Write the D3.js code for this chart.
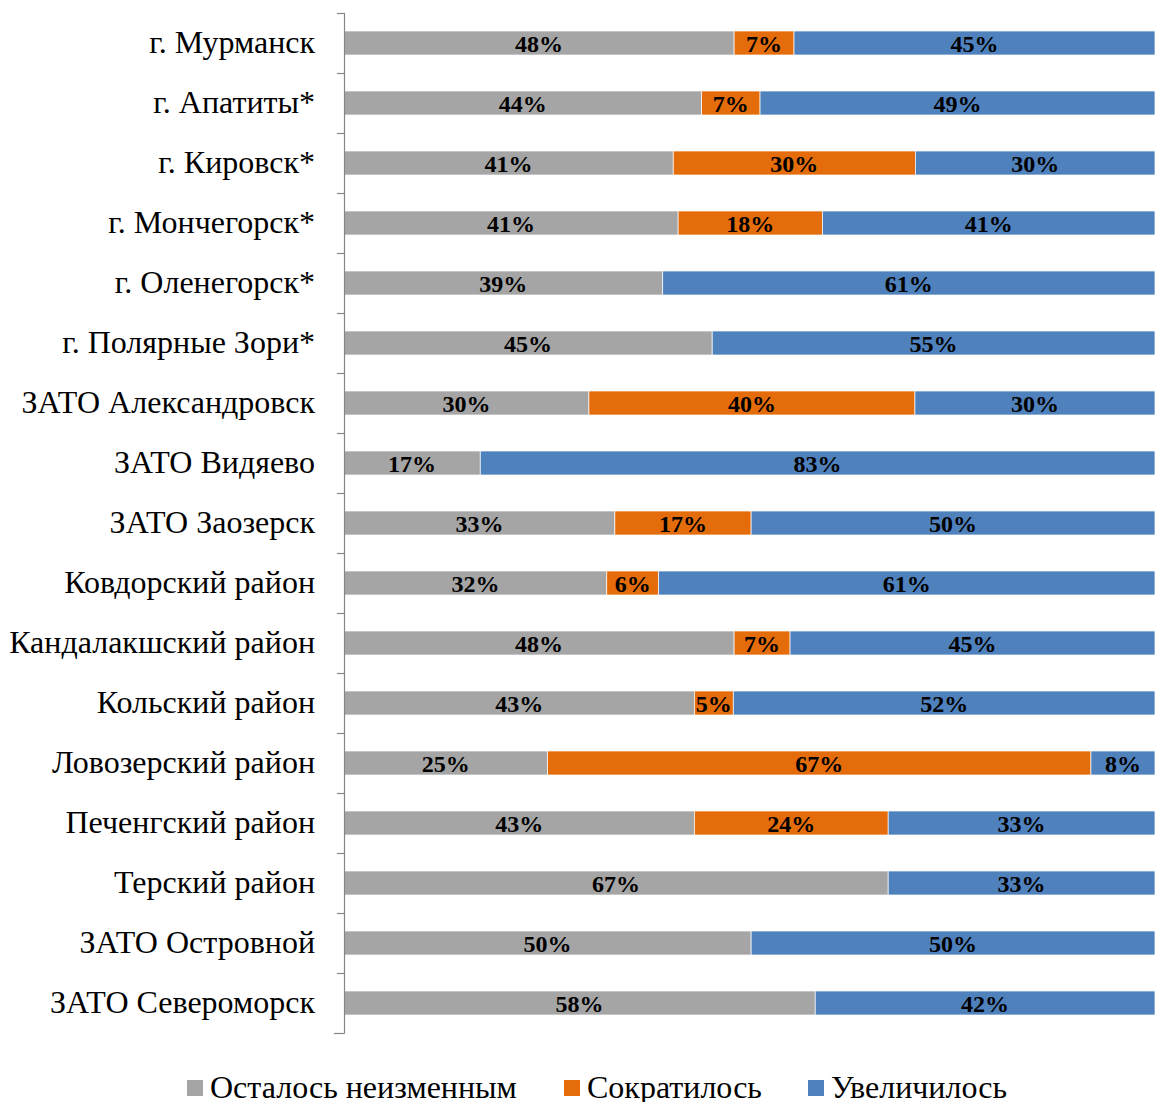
<!DOCTYPE html>
<html><head><meta charset="utf-8">
<script src="https://cdn.jsdelivr.net/npm/d3@7"></script>
<style>body{margin:0;background:#fff;}svg{display:block;}</style>
</head><body>
<svg id="c" width="1155" height="1102"></svg>
<script>
const categories = ["г. Мурманск","г. Апатиты*","г. Кировск*","г. Мончегорск*","г. Оленегорск*","г. Полярные Зори*","ЗАТО Александровск","ЗАТО Видяево","ЗАТО Заозерск","Ковдорский район","Кандалакшский район","Кольский район","Ловозерский район","Печенгский район","Терский район","ЗАТО Островной","ЗАТО Североморск"];
const seriesNames = ["Осталось неизменным","Сократилось","Увеличилось"];
const unchanged = [48.2,44.1,40.8,41.2,39.3,45.4,30.2,16.8,33.4,32.4,48.1,43.2,25.1,43.2,67.1,50.2,58.1];
const decreased = [7.4,7.2,30.0,17.8,0,0,40.2,0,16.8,6.4,6.9,4.8,67.0,23.9,0,0,0];
const increased = [44.6,48.7,29.7,41.0,60.7,54.6,29.6,83.2,49.8,61.2,45.0,52.0,7.9,32.9,32.9,49.8,41.9];
const colors = ["#A5A5A5","#E46C0A","#4F81BD"];

const rows = categories.map((c,i)=>({cat:c, s0:unchanged[i], s1:decreased[i], s2:increased[i]}));
const stack = d3.stack().keys(["s0","s1","s2"]).offset(d3.stackOffsetExpand);
const layers = stack(rows);

const svg = d3.select("#c");
const x = d3.scaleLinear().domain([0,1]).range([344,1155]);
const y = d3.scaleBand().domain(categories).range([13,1033]).paddingInner(0.6).paddingOuter(0.3);
const font = "'Liberation Serif','Times New Roman',serif";

const g = svg.append("g");
layers.forEach((layer,k)=>{
  g.selectAll(null).data(layer).enter().append("rect")
    .attr("x",d=>x(d[0])).attr("width",d=>x(d[1])-x(d[0]))
    .attr("y",d=>y(d.data.cat)).attr("height",y.bandwidth())
    .attr("fill",colors[k]).attr("stroke","#fff").attr("stroke-width",0.7);
  g.selectAll(null).data(layer.filter(d=>d[1]-d[0]>0)).enter().append("text")
    .attr("x",d=>(x(d[0])+x(d[1]))/2).attr("y",d=>y(d.data.cat)+y.bandwidth()/2)
    .attr("dy","0.36em").attr("text-anchor","middle")
    .style("font-family",font).style("font-weight","bold").style("font-size","24px").attr("fill","#000")
    .text(d=>Math.round(d.data[layer.key])+"%");
});

// axis
const step = y.step();
const r0 = y.range()[0];
const bounds = d3.range(categories.length+1).map(i=>r0+i*step);
const ax = svg.append("g");
ax.append("line").attr("x1",344.5).attr("x2",344.5).attr("y1",bounds[0]).attr("y2",bounds[bounds.length-1]+0.5)
  .attr("stroke","#868686").attr("stroke-width",1.2);
ax.selectAll(null).data(bounds).enter().append("line")
  .attr("x1",(d,i)=>i===bounds.length-1?334:337).attr("x2",344.5).attr("y1",d=>d+0.5).attr("y2",d=>d+0.5)
  .attr("stroke","#868686").attr("stroke-width",1.2);
ax.selectAll(null).data(categories).enter().append("text")
  .attr("x",315).attr("y",d=>y(d)+y.bandwidth()/2).attr("dy","0.3em").attr("text-anchor","end")
  .style("font-family",font).style("font-size","32px").attr("fill","#000").text(d=>d);

// legend
const legX = [187,564,808];
const lg = svg.append("g");
seriesNames.forEach((n,i)=>{
  lg.append("rect").attr("x",legX[i]).attr("y",1080).attr("width",16).attr("height",16).attr("fill",colors[i]);
  lg.append("text").attr("x",legX[i]+23).attr("y",1098)
    .style("font-family",font).style("font-size","32px").attr("fill","#000").text(n);
});
</script>
</body></html>
